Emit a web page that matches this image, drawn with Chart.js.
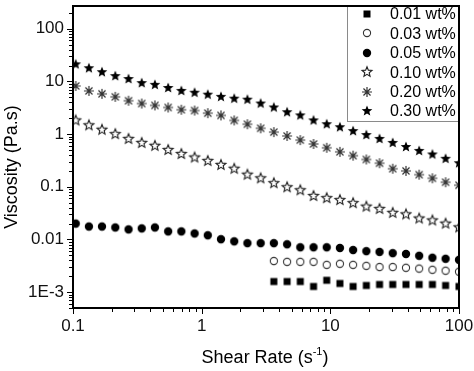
<!DOCTYPE html>
<html><head><meta charset="utf-8">
<script src="https://cdn.jsdelivr.net/npm/chart.js@4/dist/chart.umd.min.js"></script>
<style>html,body{margin:0;padding:0;background:#fff}</style>
</head><body><canvas id="c" width="474" height="371"></canvas>
<script>
// Shear rate (s^-1) of each measured point
const shearRate = [0.105,0.133,0.168,0.213,0.270,0.342,0.433,0.549,0.695,0.881,
  1.116,1.413,1.791,2.268,2.873,3.639,4.610,5.84,7.40,9.37,
  11.87,15.03,19.04,24.12,30.55,38.7,49.0,62.1,78.7,100];
// low-concentration series are only measured from ~3.6 s^-1
const shearRateHigh = [3.639,4.610,5.84,7.40,9.37,11.87,15.03,19.04,24.12,30.55,38.7,49.0,62.1,78.7,100];

const visc001 = [0.00159,0.00159,0.00159,0.00128,0.00168,0.00146,0.00128,0.00134,0.0014,0.0014,0.0014,0.0014,0.0014,0.00134,0.00128];
const visc003 = [0.0039,0.00376,0.00376,0.00376,0.0033,0.00345,0.0033,0.00316,0.0030,0.0030,0.0029,0.0028,0.00266,0.00255,0.00244];
const visc005 = [0.0200,0.0176,0.0176,0.0169,0.0155,0.0162,0.0169,0.0142,0.0142,0.0130,
  0.0120,0.0101,0.0092,0.0085,0.0085,0.0085,0.0081,0.0071,0.0071,0.0071,
  0.0069,0.0063,0.0060,0.0058,0.0055,0.0053,0.0049,0.0045,0.0043,0.0041];
const visc010 = [1.82,1.47,1.21,1.0,0.81,0.68,0.60,0.50,0.42,0.36,
  0.31,0.26,0.22,0.17,0.145,0.117,0.098,0.086,0.067,0.061,
  0.056,0.049,0.042,0.038,0.032,0.030,0.025,0.023,0.020,0.017];
const visc020 = [8.2,6.6,5.8,5.1,4.3,3.8,3.5,3.2,2.9,2.8,
  2.5,2.26,1.82,1.54,1.29,1.09,0.92,0.77,0.65,0.55,
  0.46,0.39,0.33,0.28,0.22,0.20,0.17,0.145,0.122,0.107];
const visc030 = [21.1,17.8,15.0,12.6,11.1,9.3,8.6,7.5,6.6,6.1,
  5.6,5.1,4.7,4.5,3.8,3.2,2.6,2.26,1.82,1.54,
  1.35,1.14,0.96,0.81,0.68,0.57,0.48,0.41,0.34,0.28];

const seriesLabels = ['0.01 wt%','0.03 wt%','0.05 wt%','0.10 wt%','0.20 wt%','0.30 wt%'];
const xTickValues = [0.1, 1, 10, 100];
const xTickLabels = ['0.1', '1', '10', '100'];
const yTickValues = [0.001, 0.01, 0.1, 1, 10, 100];
const yTickLabels = ['1E-3', '0.01', '0.1', '1', '10', '100'];

const FONT = "'Liberation Sans', Arial, Helvetica, sans-serif";

function symbolCanvas(kind) {
  const S = 16, c = document.createElement('canvas');
  c.width = S; c.height = S;
  const g = c.getContext('2d');
  const cx = S / 2, cy = S / 2;
  function star(R, r) {
    g.beginPath();
    for (let i = 0; i < 10; i++) {
      const a = -Math.PI / 2 + i * Math.PI / 5;
      const rr = i % 2 === 0 ? R : r;
      const px = cx + rr * Math.cos(a), py = cy + rr * Math.sin(a);
      if (i === 0) g.moveTo(px, py); else g.lineTo(px, py);
    }
    g.closePath();
  }
  if (kind === 'square') {
    g.fillStyle = '#000'; g.fillRect(cx - 3.5, cy - 3.5, 7, 7);
  } else if (kind === 'openCircle') {
    g.strokeStyle = '#333'; g.lineWidth = 1.1;
    g.beginPath(); g.arc(cx, cy, 3.6, 0, Math.PI * 2); g.stroke();
  } else if (kind === 'dot') {
    g.fillStyle = '#000'; g.beginPath(); g.arc(cx, cy, 4.2, 0, Math.PI * 2); g.fill();
  } else if (kind === 'openStar') {
    g.strokeStyle = '#222'; g.lineWidth = 1.1; star(5.2, 2.3); g.stroke();
  } else if (kind === 'asterisk') {
    g.strokeStyle = '#333'; g.lineWidth = 1.2; g.beginPath();
    for (let i = 0; i < 4; i++) {
      const a = i * Math.PI / 4;
      g.moveTo(cx - 5 * Math.cos(a), cy - 5 * Math.sin(a));
      g.lineTo(cx + 5 * Math.cos(a), cy + 5 * Math.sin(a));
    }
    g.stroke();
  } else if (kind === 'fullStar') {
    g.fillStyle = '#000'; star(5.6, 2.4); g.fill();
  }
  return c;
}
const kinds = ['square', 'openCircle', 'dot', 'openStar', 'asterisk', 'fullStar'];
const symbols = kinds.map(symbolCanvas);

function pts(xs, ys) { return xs.map((x, i) => ({ x: x, y: ys[i] })); }
const seriesData = [
  pts(shearRateHigh, visc001), pts(shearRateHigh, visc003), pts(shearRate, visc005),
  pts(shearRate, visc010), pts(shearRate, visc020), pts(shearRate, visc030)
];

const datasets = seriesData.map((d, i) => ({
  label: seriesLabels[i], data: d, pointStyle: symbols[i],
  pointRadius: 5, showLine: false
}));

function minorTicks(min, max) {
  const out = [];
  for (let e = -5; e <= 4; e++) for (let m = 1; m <= 9; m++) {
    const v = m * Math.pow(10, e);
    if (v >= min * 0.999 && v <= max * 1.001) out.push({ v: v, major: m === 1 });
  }
  return out;
}

const decor = {
  id: 'decor',
  afterDraw(chart) {
    const ctx = chart.ctx, a = chart.chartArea;
    const xs = chart.scales.x, ys = chart.scales.y;
    const L = Math.round(a.left), R = Math.round(a.right), T = Math.round(a.top), B = Math.round(a.bottom);
    ctx.save();
    ctx.fillStyle = '#000';
    // ticks (outward)
    minorTicks(xs.min, xs.max).forEach(t => {
      const px = Math.round(xs.getPixelForValue(t.v));
      ctx.fillRect(px, B, 1, t.major ? 6 : 4);
    });
    minorTicks(ys.min, ys.max).forEach(t => {
      const py = Math.round(ys.getPixelForValue(t.v));
      ctx.fillRect(L - (t.major ? 6 : 4), py, t.major ? 6 : 4, 1);
    });
    // frame
    ctx.fillRect(L - 1, T - 1, R - L + 2, 2);
    ctx.fillRect(L - 1, B - 1, R - L + 2, 2);
    ctx.fillRect(L - 1, T - 1, 2, B - T + 2);
    ctx.fillRect(R - 1, T - 1, 2, B - T + 2);
    // legend box
    const lx = 347, lb = 121;
    ctx.fillStyle = '#8a8a8a';
    ctx.fillRect(lx, T + 1, 1, lb - T);
    ctx.fillRect(lx, lb, R - 1 - lx, 1);
    ctx.font = '16px ' + FONT; ctx.fillStyle = '#000';
    ctx.textBaseline = 'middle'; ctx.textAlign = 'left';
    seriesLabels.forEach((lab, i) => {
      const cy = 14 + i * 19.4;
      ctx.drawImage(symbols[i], 367 - 8, Math.round(cy) - 8);
      ctx.fillText(lab, 390, cy + 1);
    });
    // axis titles
    ctx.font = '18px ' + FONT;
    ctx.save();
    ctx.translate(12, 167); ctx.rotate(-Math.PI / 2);
    ctx.textAlign = 'center'; ctx.textBaseline = 'middle';
    ctx.fillText('Viscosity (Pa.s)', 0, 0);
    ctx.restore();
    const p1 = 'Shear Rate (s', p2 = '-1', p3 = ')';
    ctx.font = '18px ' + FONT; const w1 = ctx.measureText(p1).width, w3 = ctx.measureText(p3).width;
    ctx.font = '11px ' + FONT; const w2 = ctx.measureText(p2).width;
    const x0 = 265 - (w1 + w2 + w3) / 2; const base = 363;
    ctx.textBaseline = 'alphabetic'; ctx.textAlign = 'left';
    ctx.font = '18px ' + FONT; ctx.fillText(p1, x0, base);
    ctx.font = '11px ' + FONT; ctx.fillText(p2, x0 + w1, base - 8);
    ctx.font = '18px ' + FONT; ctx.fillText(p3, x0 + w1 + w2, base);
    ctx.restore();
  }
};

new Chart(document.getElementById('c'), {
  type: 'scatter',
  data: { datasets: datasets },
  options: {
    responsive: false, animation: false, devicePixelRatio: 1,
    layout: { padding: { top: 1, right: 15, left: 0, bottom: 0 } },
    plugins: { legend: { display: false }, tooltip: { enabled: false } },
    scales: {
      x: {
        type: 'logarithmic', position: 'bottom', min: 0.1, max: 100,
        grid: { display: false, drawTicks: false }, border: { display: false },
        afterBuildTicks: s => { s.ticks = xTickValues.map(v => ({ value: v })); },
        afterFit: s => { s.height = 63; s.paddingLeft = 0; s.paddingRight = 0; },
        ticks: {
          autoSkip: false, maxRotation: 0, padding: 8, color: '#111',
          font: { family: FONT, size: 17 },
          callback: v => { const i = xTickValues.indexOf(v); return i >= 0 ? xTickLabels[i] : ''; }
        }
      },
      y: {
        type: 'logarithmic', position: 'left', min: 0.0005, max: 270,
        grid: { display: false, drawTicks: false }, border: { display: false },
        afterBuildTicks: s => { s.ticks = yTickValues.map(v => ({ value: v })); },
        afterFit: s => { s.width = 73; s.paddingTop = 0; s.paddingBottom = 0; },
        ticks: {
          autoSkip: false, padding: 9, color: '#111',
          font: { family: FONT, size: 17 },
          callback: v => { const i = yTickValues.indexOf(v); return i >= 0 ? yTickLabels[i] : ''; }
        }
      }
    }
  },
  plugins: [decor]
});
</script></body></html>
